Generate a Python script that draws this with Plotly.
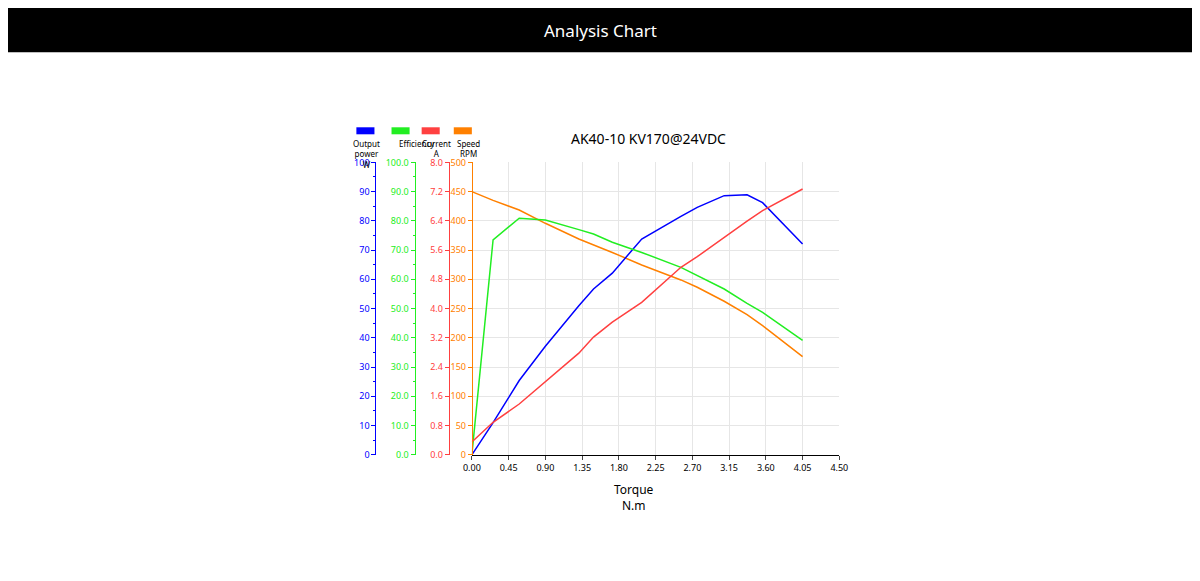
import plotly.graph_objects as go

# --- DATA ---
torque = [0, 0.26, 0.58, 0.90, 1.31, 1.49, 1.72, 2.08, 2.56, 2.76, 3.09, 3.37, 3.56, 4.05]
power = [0, 11.0, 25.4, 37.1, 51.0, 56.7, 62.1, 73.8, 81.5, 84.6, 88.6, 88.9, 86.2, 72.1]
efficiency = [0, 73.5, 80.9, 80.3, 77.0, 75.5, 72.7, 69.2, 64.1, 61.3, 56.7, 51.8, 48.7, 39.1]
current = [0.35, 0.89, 1.39, 2.0, 2.78, 3.22, 3.63, 4.17, 5.13, 5.42, 5.95, 6.39, 6.68, 7.27]
speed = [450, 435, 418.6, 395.8, 369, 359.5, 346, 324.6, 299, 286.4, 262.5, 239.7, 221, 168]

W, H = 1200, 581
BLUE, GREEN, RED, ORANGE = '#0000ff', '#22ee22', '#ff4040', '#ff8000'

# screen pixel -> paper coords (compensates the page offset/scale seen in the screenshot)
def px(x):
    return ((x - 19) / 0.981) / W

def py(y):
    return 1 - ((y - 14.9) / 0.976) / H

fig = go.Figure()
fig.add_trace(go.Scatter(x=torque, y=power, yaxis='y', line=dict(color=BLUE, width=1.5), mode='lines'))
fig.add_trace(go.Scatter(x=torque, y=efficiency, yaxis='y2', line=dict(color=GREEN, width=1.5), mode='lines'))
fig.add_trace(go.Scatter(x=torque, y=current, yaxis='y3', line=dict(color=RED, width=1.5), mode='lines'))
fig.add_trace(go.Scatter(x=torque, y=speed, yaxis='y4', line=dict(color=ORANGE, width=1.5), mode='lines'))

ydom = [py(454), py(162)]

def yax(color, rng, dtick, pos, fmt=None, grid=False, overlay=True):
    d = dict(range=rng, dtick=dtick, domain=ydom, anchor='free', position=pos,
             showline=True, linecolor=color, linewidth=1.2, ticks='outside', ticklen=4,
             tickcolor=color, tickfont=dict(family='Noto Sans', size=9, color=color),
             showgrid=grid, gridcolor='#e6e6e6', zeroline=False,
             minor=dict(ticks='outside', ticklen=2, tickcolor=color, nticks=2))
    if fmt:
        d['tickformat'] = fmt
    if overlay:
        d['overlaying'] = 'y4'
    return d

fig.update_layout(
    width=W, height=H, showlegend=False,
    plot_bgcolor='white', paper_bgcolor='white',
    margin=dict(l=0, r=0, t=0, b=0),
    font=dict(family='Noto Sans', size=9),
    xaxis=dict(domain=[px(472), px(838)], range=[0, 4.5], dtick=0.45, tickformat='.2f',
               showline=True, linecolor='black', linewidth=1, ticks='outside', ticklen=4,
               showgrid=True, gridcolor='#e6e6e6', zeroline=False, anchor='y4',
               tickfont=dict(family='Noto Sans', size=9, color='black')),
    yaxis=yax(BLUE, [0, 100], 10, px(376)),
    yaxis2=yax(GREEN, [0, 100], 10, px(415), fmt='.1f'),
    yaxis3=yax(RED, [0, 8], 0.8, px(449), fmt='.1f'),
    yaxis4=yax(ORANGE, [0, 500], 50, px(472), grid=True, overlay=False),
)

shapes = [dict(type='rect', xref='paper', yref='paper', x0=px(3), x1=px(1197), y0=py(52), y1=py(8),
               fillcolor='black', line=dict(width=0), layer='below')]
annotations = [
    dict(text='Analysis Chart', x=px(600), y=py(30), xref='paper', yref='paper', showarrow=False,
         yanchor='middle', font=dict(family='Noto Sans', size=17, color='white')),
    dict(text='AK40-10 KV170@24VDC', x=px(648), y=py(138), xref='paper', yref='paper', showarrow=False,
         yanchor='middle', font=dict(family='Noto Sans', size=14, color='black')),
    dict(text='Torque<br>N.m', x=px(633), y=py(497), xref='paper', yref='paper', showarrow=False,
         yanchor='middle', font=dict(family='Noto Sans', size=12, color='black')),
]
legend = [(366, BLUE, 'Output<br>power<br>W', 352), (401, GREEN, 'Efficiency', 397),
          (431, RED, 'Current<br>A', 437), (463, ORANGE, 'Speed<br>RPM', 469)]
for cx, col, label, tx in legend:
    shapes.append(dict(type='rect', xref='paper', yref='paper', x0=px(cx - 9), x1=px(cx + 9),
                       y0=py(134), y1=py(127), fillcolor=col, line=dict(width=0)))
    annotations.append(dict(text=label, x=px(tx), y=py(136), xref='paper', yref='paper',
                            yanchor='top', showarrow=False,
                            font=dict(family='Noto Sans', size=8, color='black')))
fig.update_layout(shapes=shapes, annotations=annotations)

fig.write_html("out.html")
